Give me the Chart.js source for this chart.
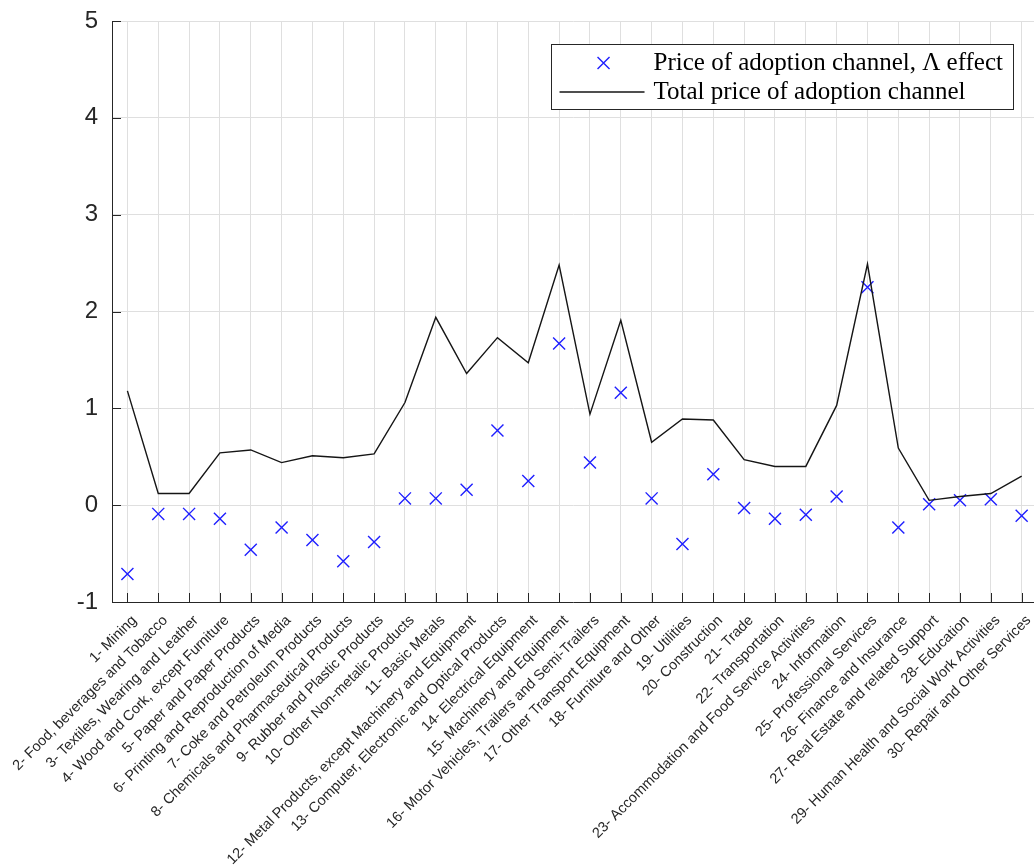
<!DOCTYPE html>
<html>
<head>
<meta charset="utf-8">
<script src="https://cdn.jsdelivr.net/npm/chart.js@4.4.0/dist/chart.umd.min.js"></script>
<style>
  html, body { margin: 0; padding: 0; background: #ffffff; overflow: hidden; }
  #wrap { width: 1034px; height: 866px; position: relative; }
</style>
</head>
<body>
<div id="wrap"><canvas id="c" width="1034" height="866"></canvas></div>
<script>
// Sectors on the horizontal axis
const sectors = [
  '1- Mining',
  '2- Food, beverages and Tobacco',
  '3- Textiles, Wearing and Leather',
  '4- Wood and Cork, except Furniture',
  '5- Paper and Paper Products',
  '6- Printing and Reproduction of Media',
  '7- Coke and Petroleum Products',
  '8- Chemicals and Pharmaceutical Products',
  '9- Rubber and Plastic Products',
  '10- Other Non-metalic Products',
  '11- Basic Metals',
  '12- Metal Products, except Machinery and Equipment',
  '13- Computer, Electronic and Optical Products',
  '14- Electrical Equipment',
  '15- Machinery and Equipment',
  '16- Motor Vehicles, Trailers and Semi-Trailers',
  '17- Other Transport Equipment',
  '18- Furniture and Other',
  '19- Utilities',
  '20- Construction',
  '21- Trade',
  '22- Transportation',
  '23- Accommodation and Food Service Activities',
  '24- Information',
  '25- Professional Services',
  '26- Finance and Insurance',
  '27- Real Estate and related Support',
  '28- Education',
  '29- Human Health and Social Work Activities',
  '30- Repair and Other Services'
];

// Price of adoption channel, Lambda effect (markers)
const lambdaEffect = [
  -0.71, -0.09, -0.09, -0.14, -0.46, -0.23, -0.36, -0.58, -0.38, 0.07,
   0.07,  0.16,  0.77,  0.25,  1.67,  0.44,  1.16,  0.07, -0.40, 0.32,
  -0.03, -0.14, -0.10,  0.09,  2.25, -0.23,  0.01,  0.05,  0.06, -0.11
];

// Total price of adoption channel (line)
const totalChannel = [
  1.18, 0.12, 0.12, 0.54, 0.57, 0.44, 0.51, 0.49, 0.53, 1.06,
  1.94, 1.36, 1.73, 1.47, 2.48, 0.94, 1.91, 0.65, 0.89, 0.88,
  0.47, 0.40, 0.40, 1.03, 2.49, 0.59, 0.05, 0.09, 0.12, 0.30
];

const yTicks = [-1, 0, 1, 2, 3, 4, 5];
const legendLabels = ['Price of adoption channel, \u039B effect', 'Total price of adoption channel'];

const axisColor = '#262626';
const gridColor = '#dfdfdf';
const markerColor = '#1f1fff';
const lineColor = '#151515';

// Inward-pointing tick marks along the left and bottom axes
const innerTicks = {
  id: 'innerTicks',
  beforeDatasetsDraw(chart) {
    const { ctx, chartArea: a, scales: { x, y } } = chart;
    ctx.save();
    ctx.strokeStyle = axisColor;
    ctx.lineWidth = 1;
    ctx.beginPath();
    x.ticks.forEach(t => {
      const px = Math.round(x.getPixelForValue(t.value)) + 0.5;
      ctx.moveTo(px, a.bottom);
      ctx.lineTo(px, a.bottom - 9);
    });
    y.ticks.forEach(t => {
      const py = Math.round(y.getPixelForValue(t.value)) + 0.5;
      ctx.moveTo(a.left, py);
      ctx.lineTo(a.left + 9, py);
    });
    ctx.stroke();
    ctx.restore();
  }
};

// Boxed legend in the upper right corner of the plot area
const boxLegend = {
  id: 'boxLegend',
  afterDraw(chart) {
    const { ctx, chartArea: a } = chart;
    ctx.save();
    ctx.font = '25px "Liberation Serif", "Times New Roman", serif';
    const maxW = Math.max(...legendLabels.map(s => ctx.measureText(s).width));
    const right = a.right - 21;
    const top = a.top + 23;
    const left = right - (103 + maxW + 10);
    const h = 65;
    ctx.fillStyle = '#ffffff';
    ctx.fillRect(left, top, right - left, h);
    ctx.strokeStyle = axisColor;
    ctx.lineWidth = 1;
    ctx.strokeRect(Math.round(left) + 0.5, Math.round(top) + 0.5, Math.round(right - left), h);

    const row1 = top + 19, row2 = top + 48;
    // marker sample
    ctx.strokeStyle = markerColor;
    ctx.lineWidth = 1.4;
    const m = 6, mx = left + 53;
    ctx.beginPath();
    ctx.moveTo(mx - m, row1 - m); ctx.lineTo(mx + m, row1 + m);
    ctx.moveTo(mx - m, row1 + m); ctx.lineTo(mx + m, row1 - m);
    ctx.stroke();
    // line sample
    ctx.strokeStyle = lineColor;
    ctx.lineWidth = 1.4;
    ctx.beginPath();
    ctx.moveTo(left + 9, row2); ctx.lineTo(left + 94, row2);
    ctx.stroke();

    ctx.fillStyle = '#000000';
    ctx.textBaseline = 'middle';
    ctx.textAlign = 'left';
    ctx.fillText(legendLabels[0], left + 103, row1);
    ctx.fillText(legendLabels[1], left + 103, row2);
    ctx.restore();
  }
};

new Chart(document.getElementById('c'), {
  type: 'scatter',
  data: {
    datasets: [
      {
        label: legendLabels[0],
        data: lambdaEffect.map((v, i) => ({ x: i + 1, y: v })),
        order: 1,
        showLine: false,
        pointStyle: 'crossRot',
        pointRadius: 8.5,
        pointHoverRadius: 8.5,
        borderColor: markerColor,
        backgroundColor: 'transparent',
        pointBorderWidth: 1.4
      },
      {
        label: legendLabels[1],
        data: totalChannel.map((v, i) => ({ x: i + 1, y: v })),
        order: 0,
        showLine: true,
        pointRadius: 0,
        borderColor: lineColor,
        borderWidth: 1.4,
        tension: 0
      }
    ]
  },
  options: {
    responsive: false,
    animation: false,
    devicePixelRatio: 1,
    layout: { autoPadding: false, padding: { top: 21, right: 0, left: 0, bottom: 0 } },
    plugins: { legend: { display: false }, tooltip: { enabled: false } },
    scales: {
      x: {
        type: 'linear',
        min: 0.5,
        max: 30.4,
        afterBuildTicks: s => { s.ticks = sectors.map((_, i) => ({ value: i + 1 })); },
        afterFit: s => { s.height = 264; s.paddingLeft = 0; s.paddingRight = 0; },
        ticks: {
          autoSkip: false,
          minRotation: 45,
          maxRotation: 45,
          padding: 10,
          labelOffset: 7,
          color: axisColor,
          font: { family: '"Liberation Sans", Arial, sans-serif', size: 14.5 },
          callback: v => sectors[v - 1]
        },
        grid: { color: gridColor, lineWidth: 1, drawTicks: false },
        border: { display: true, color: axisColor, width: 1 }
      },
      y: {
        min: -1,
        max: 5,
        afterBuildTicks: s => { s.ticks = yTicks.map(v => ({ value: v })); },
        afterFit: s => { s.width = 112; s.paddingTop = 0; s.paddingBottom = 0; },
        ticks: {
          padding: 14,
          color: axisColor,
          font: { family: '"Liberation Sans", Arial, sans-serif', size: 24 },
          callback: v => String(v)
        },
        grid: { color: gridColor, lineWidth: 1, drawTicks: false },
        border: { display: true, color: axisColor, width: 1 }
      }
    }
  },
  plugins: [innerTicks, boxLegend]
});
</script>
</body>
</html>
